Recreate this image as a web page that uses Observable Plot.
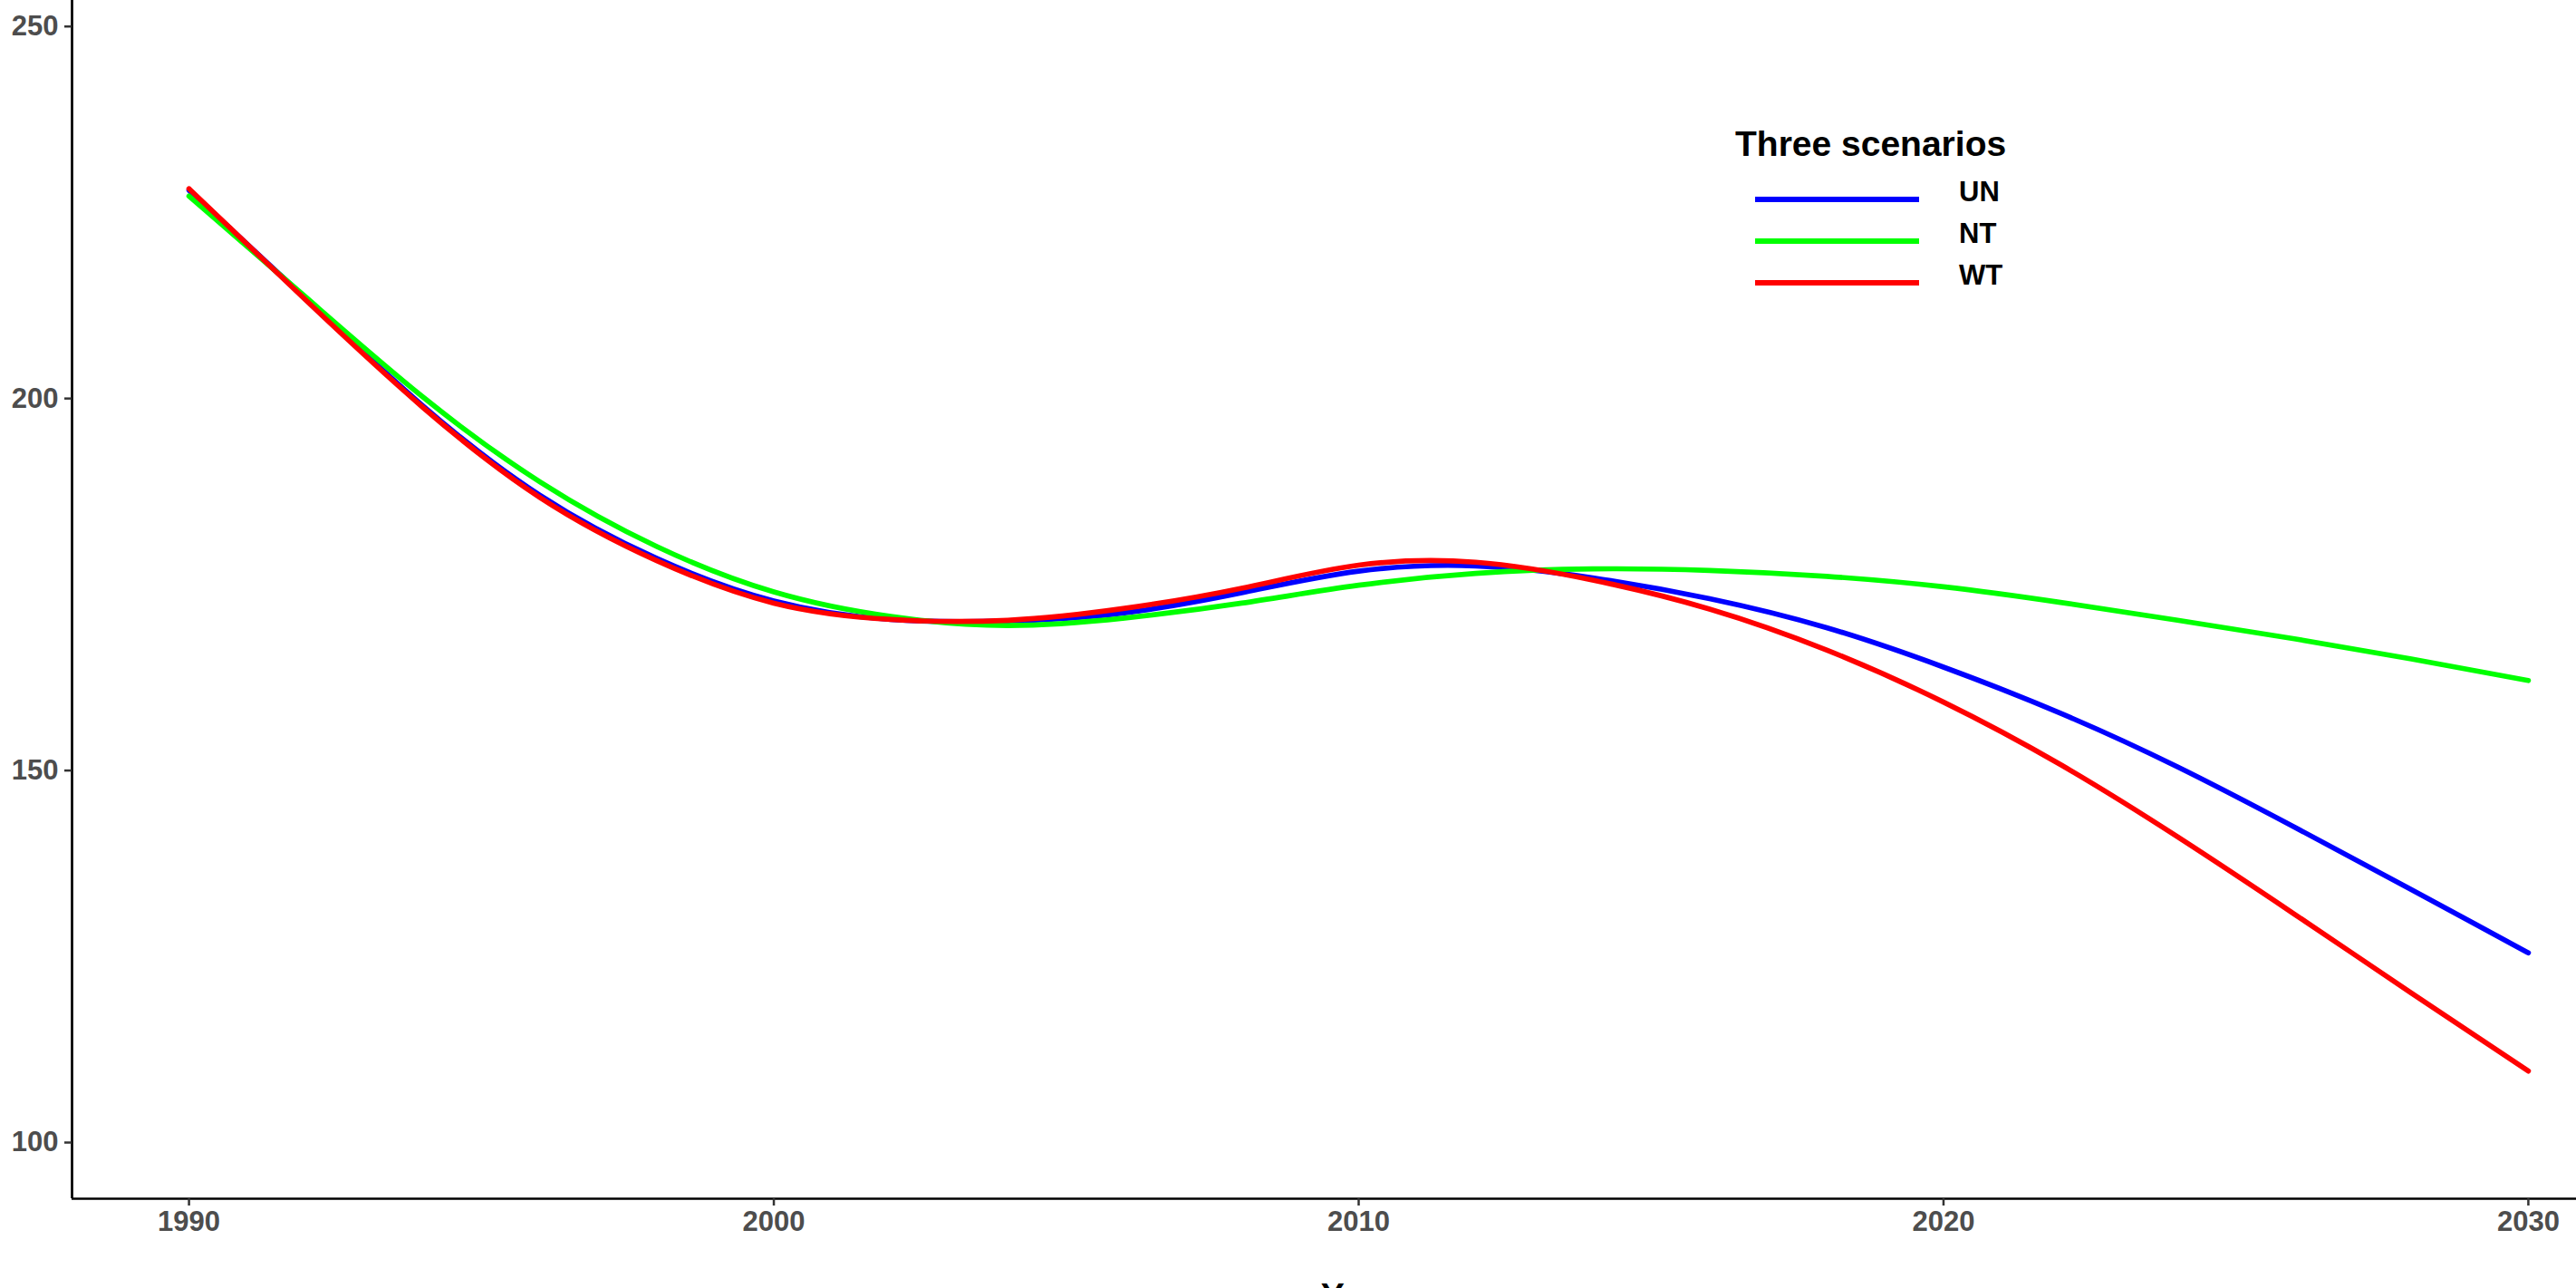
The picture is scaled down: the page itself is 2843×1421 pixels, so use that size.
<!DOCTYPE html>
<html>
<head>
<meta charset="utf-8">
<script src="https://cdn.jsdelivr.net/npm/d3@7"></script>
<script src="https://cdn.jsdelivr.net/npm/@observablehq/plot@0.6"></script>
<style>
  html, body { margin: 0; padding: 0; background: #fff; overflow: hidden; }
  #chart { position: relative; width: 2843px; height: 1421px; overflow: hidden; }
</style>
</head>
<body>
<div id="chart"></div>
<script>
// ---- data ----
const years = [1990, 1992, 1994, 1996, 1998, 2000, 2002, 2004, 2006, 2008, 2010,
               2012, 2014, 2016, 2018, 2020, 2022, 2024, 2026, 2028, 2030];
const un = [228.0, 213.4, 199.0, 187.0, 178.5, 172.8, 170.3, 170.1, 171.2, 173.9, 176.8,
            177.5, 175.9, 173.1, 169.2, 163.9, 157.7, 150.5, 142.4, 134.0, 125.5];
const nt = [227.2, 213.6, 200.2, 188.8, 180.1, 174.0, 170.7, 169.5, 170.5, 172.5, 174.9,
            176.5, 177.1, 176.9, 176.1, 174.7, 172.6, 170.2, 167.7, 165.0, 162.1];
const wt = [228.2, 213.2, 198.8, 186.7, 178.2, 172.5, 170.3, 170.2, 171.8, 174.5, 177.6,
            178.0, 175.6, 171.7, 166.2, 159.2, 150.8, 141.1, 130.7, 120.1, 109.6];
const scenarios = ["UN", "NT", "WT"];
const colors = ["#0000FF", "#00FF00", "#FF0000"];
const xTicks = [1990, 2000, 2010, 2020, 2030];
const yTicks = [100, 150, 200, 250];
const legendTitle = "Three scenarios";
const xTitle = "Year";

const series = { UN: un, NT: nt, WT: wt };
const rows = scenarios.flatMap(s => years.map((yr, i) => ({ year: yr, value: series[s][i], scenario: s })));

const FONT = "'Liberation Sans', Arial, Helvetica, sans-serif";
const xDomain = [1988, 2032];
const yDomain = [92.45, 253.5];

const plot = Plot.plot({
  width: 2843,
  height: 1421,
  marginLeft: 79,
  marginRight: 0,
  marginTop: 0,
  marginBottom: 99,
  style: { fontFamily: FONT, background: "white", overflow: "hidden" },
  x: { domain: xDomain, range: [79, 2919] },
  y: { domain: yDomain },
  color: { domain: scenarios, range: colors },
  marks: [
    Plot.line(rows, { x: "year", y: "value", z: "scenario", stroke: "scenario",
                      strokeWidth: 5.7, curve: "natural" }),
    Plot.ruleY([yDomain[0]], { stroke: "#000", strokeWidth: 2.7 }),
    Plot.ruleX([xDomain[0]], { stroke: "#000", strokeWidth: 2.7 }),
    Plot.axisX({ ticks: xTicks, tickFormat: d => String(d), tickSize: 8, tickPadding: 5,
                 stroke: "#333", fill: "#4d4d4d", strokeWidth: 2.5,
                 fontSize: 31, fontWeight: "bold", label: null }),
    Plot.axisY({ ticks: yTicks, tickFormat: d => String(d), tickSize: 8, tickPadding: 7,
                 stroke: "#333", fill: "#4d4d4d", strokeWidth: 2.5,
                 fontSize: 31, fontWeight: "bold", label: null })
  ]
});

document.getElementById("chart").appendChild(plot);

// ---- x-axis title (cut off by the bottom edge, as in the reference) ----
const svg = d3.select(plot);
const xs = plot.scale("x");
svg.append("text")
  .attr("x", (xs.range[0] + xs.range[1]) / 2)
  .attr("y", 1443)
  .attr("text-anchor", "middle")
  .attr("font-family", FONT)
  .attr("font-weight", "bold")
  .attr("font-size", 39)
  .attr("fill", "#000")
  .text(xTitle);

// ---- legend inside the panel ----
const lg = svg.append("g").attr("font-family", FONT).attr("font-weight", "bold")
  .attr("fill", "#000").attr("text-anchor", "start");
lg.append("text").attr("x", 1915).attr("y", 172).attr("font-size", 39).text(legendTitle);
scenarios.forEach((s, i) => {
  const y = 220 + i * 46;
  lg.append("line").attr("x1", 1937).attr("x2", 2118).attr("y1", y).attr("y2", y)
    .attr("stroke", colors[i]).attr("stroke-width", 6);
  lg.append("text").attr("x", 2162).attr("y", y + 2).attr("font-size", 31).text(s);
});
</script>
</body>
</html>
